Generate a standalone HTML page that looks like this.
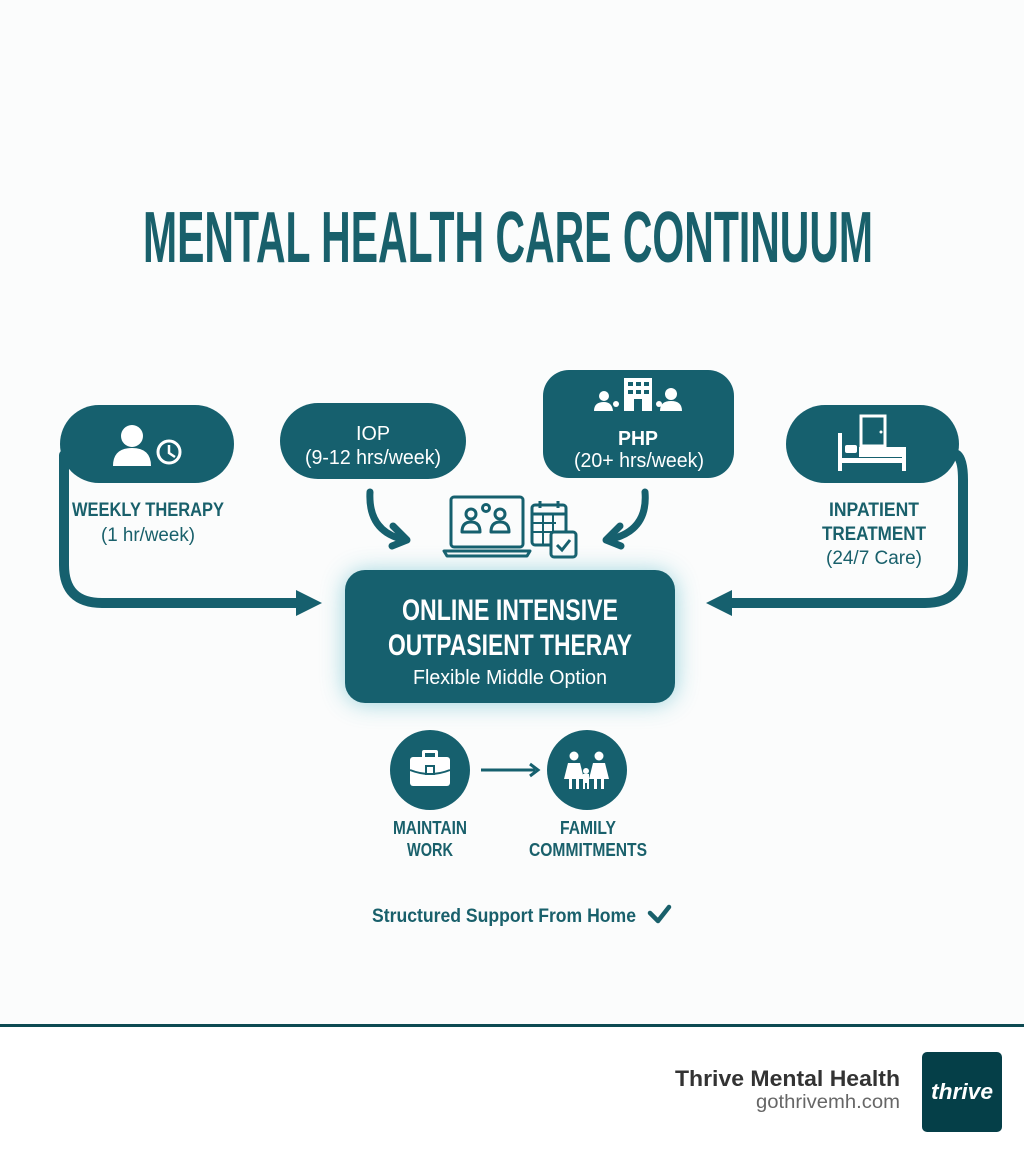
<!DOCTYPE html>
<html><head><meta charset="utf-8"><style>
html,body{margin:0;padding:0;background:#fbfcfc;}
svg{display:block;}
text{font-family:"Liberation Sans",sans-serif;}
</style></head><body>
<svg width="1024" height="1154" viewBox="0 0 1024 1154" xmlns="http://www.w3.org/2000/svg">
<defs>
<filter id="glow" x="-30%" y="-40%" width="160%" height="180%"><feGaussianBlur stdDeviation="12"/></filter>
<filter id="glow2" x="-50%" y="-50%" width="200%" height="200%"><feGaussianBlur stdDeviation="8"/></filter>
</defs>
<rect width="1024" height="1154" fill="#fbfcfc"/>
<!-- Title -->
<text x="508" y="262" text-anchor="middle" font-size="72" font-weight="bold" fill="#19606b" textLength="730" lengthAdjust="spacingAndGlyphs">MENTAL HEALTH CARE CONTINUUM</text>

<g fill="#16606e" stroke="none">
<!-- weekly pill -->
<rect x="60" y="405" width="174" height="78" rx="39"/>
<!-- IOP pill -->
<rect x="280" y="403" width="186" height="76" rx="38"/>
<!-- PHP box -->
<rect x="543" y="370" width="191" height="108" rx="26"/>
<!-- inpatient -->
<rect x="786" y="405" width="173" height="78" rx="39"/>
</g>

<!-- connectors -->
<g fill="none" stroke="#16606e" stroke-width="10" stroke-linecap="round">
<path d="M64 455 L64 565 Q64 603 102 603 L300 603"/>
<path d="M957 455 Q963 460 963 480 L963 565 Q963 603 925 603 L728 603"/>
<path d="M370 492 Q368 528 398 538" stroke-width="7"/>
<path d="M645 492 Q648 528 615 538" stroke-width="7"/>
</g>
<g fill="#16606e">
<polygon points="296,590 322,603 296,616"/>
<polygon points="732,590 706,603 732,616"/>
</g>
<g fill="none" stroke="#16606e" stroke-width="7" stroke-linecap="round" stroke-linejoin="round">
<polyline points="393,526 407,540 392,546"/>
<polyline points="620,526 606,540 621,546"/>
</g>

<!-- weekly icon -->
<g fill="#fff">
<circle cx="132" cy="436" r="11"/>
<path d="M113 466 Q113 448 132 448 Q151 448 151 466 Z"/>
</g>
<circle cx="169" cy="452" r="11" fill="none" stroke="#fff" stroke-width="3"/>
<polyline points="169,445 169,453 175,457" fill="none" stroke="#fff" stroke-width="2.5"/>

<!-- IOP text -->
<text x="373" y="440" text-anchor="middle" font-size="20" fill="#fff" textLength="34" lengthAdjust="spacingAndGlyphs">IOP</text>
<text x="373" y="464" text-anchor="middle" font-size="20" fill="#fff" textLength="136" lengthAdjust="spacingAndGlyphs">(9-12 hrs/week)</text>

<!-- PHP icon -->
<g fill="#fff">
<rect x="624" y="378" width="28" height="33"/>
<circle cx="604" cy="396" r="5"/><path d="M594 411 Q594 402 604 402 Q612 402 613 411Z"/>
<circle cx="671" cy="394" r="6"/><path d="M660 411 Q660 401 671 401 Q682 401 682 411Z"/>
<circle cx="616" cy="404" r="3"/><circle cx="659" cy="404" r="3"/>
</g>
<g fill="#16606e">
<rect x="628" y="382" width="5" height="4"/><rect x="636" y="382" width="5" height="4"/><rect x="644" y="382" width="5" height="4"/>
<rect x="628" y="390" width="5" height="4"/><rect x="636" y="390" width="5" height="4"/><rect x="644" y="390" width="5" height="4"/>
<rect x="634" y="399" width="8" height="12"/>
</g>
<text x="638" y="445" text-anchor="middle" font-size="20" font-weight="bold" fill="#fff" textLength="40" lengthAdjust="spacingAndGlyphs">PHP</text>
<text x="639" y="467" text-anchor="middle" font-size="20" fill="#fff" textLength="130" lengthAdjust="spacingAndGlyphs">(20+ hrs/week)</text>

<!-- inpatient icon -->
<g fill="none" stroke="#fff" stroke-width="3">
<rect x="861" y="416" width="24" height="30"/>
</g>
<circle cx="881" cy="432" r="1.5" fill="#fff"/>
<g fill="#fff">
<rect x="838" y="433" width="4" height="38"/>
<rect x="902" y="447" width="4" height="24"/>
<rect x="838" y="458" width="68" height="5"/>
<rect x="845" y="445" width="12" height="8" rx="2"/>
<rect x="859" y="447" width="43" height="10"/>
</g>

<!-- side labels -->
<text x="148" y="516" text-anchor="middle" font-size="19" font-weight="bold" fill="#19606b" textLength="152" lengthAdjust="spacingAndGlyphs">WEEKLY THERAPY</text>
<text x="148" y="541" text-anchor="middle" font-size="19" fill="#19606b" textLength="94" lengthAdjust="spacingAndGlyphs">(1 hr/week)</text>
<text x="874" y="516" text-anchor="middle" font-size="19" font-weight="bold" fill="#19606b" textLength="90" lengthAdjust="spacingAndGlyphs">INPATIENT</text>
<text x="874" y="540" text-anchor="middle" font-size="19" font-weight="bold" fill="#19606b" textLength="104" lengthAdjust="spacingAndGlyphs">TREATMENT</text>
<text x="874" y="564" text-anchor="middle" font-size="19" fill="#19606b" textLength="96" lengthAdjust="spacingAndGlyphs">(24/7 Care)</text>

<!-- laptop icon -->
<g fill="none" stroke="#16606e" stroke-width="3" stroke-linejoin="round">
<rect x="451" y="497" width="72" height="50" rx="3"/>
<path d="M444 551 L530 551 L527 556 L447 556 Z"/>
<circle cx="471" cy="514" r="5"/><path d="M462 532 Q462 522 471 522 Q480 522 480 532Z"/>
<circle cx="500" cy="514" r="5"/><path d="M491 532 Q491 522 500 522 Q509 522 509 532Z"/>
<circle cx="486" cy="508" r="3.5"/>
<rect x="532" y="505" width="34" height="40" rx="3"/>
<line x1="532" y1="514" x2="566" y2="514"/>
<line x1="540" y1="501" x2="540" y2="508"/><line x1="558" y1="501" x2="558" y2="508"/>
<line x1="532" y1="523" x2="556" y2="523" stroke-width="2"/><line x1="532" y1="532" x2="552" y2="532" stroke-width="2"/>
<line x1="543" y1="514" x2="543" y2="545" stroke-width="2"/><line x1="553" y1="514" x2="553" y2="535" stroke-width="2"/>
</g>
<rect x="551" y="532" width="25" height="25" rx="3" fill="#fbfcfc" stroke="#16606e" stroke-width="3"/>
<polyline points="557,545 562,550 570,540" fill="none" stroke="#16606e" stroke-width="3"/>

<!-- center box -->
<rect x="345" y="572" width="330" height="131" rx="20" fill="#4fb4c4" opacity="0.6" filter="url(#glow)"/>
<rect x="345" y="570" width="330" height="133" rx="20" fill="#16606e"/>
<text x="510" y="620" text-anchor="middle" font-size="30" font-weight="bold" fill="#fff" textLength="216" lengthAdjust="spacingAndGlyphs">ONLINE INTENSIVE</text>
<text x="510" y="655" text-anchor="middle" font-size="30" font-weight="bold" fill="#fff" textLength="244" lengthAdjust="spacingAndGlyphs">OUTPASIENT THERAY</text>
<text x="510" y="684" text-anchor="middle" font-size="20" fill="#fff" textLength="194" lengthAdjust="spacingAndGlyphs">Flexible Middle Option</text>

<!-- circles -->
<circle cx="430" cy="770" r="40" fill="#16606e"/>
<circle cx="587" cy="770" r="40" fill="#16606e"/>
<g fill="#fff">
<rect x="410" y="757" width="40" height="29" rx="3"/>
<path d="M422 757 L422 752 Q422 750 424 750 L436 750 Q438 750 438 752 L438 757 L435 757 L435 753 L425 753 L425 757Z"/>
</g>
<path d="M410 770 Q430 778 450 770" fill="none" stroke="#16606e" stroke-width="2"/>
<rect x="426" y="766" width="8" height="8" fill="#fff" stroke="#16606e" stroke-width="2"/>
<g fill="#fff">
<circle cx="574" cy="756" r="4.5"/><path d="M568 763 L580 763 L584 779 L564 779Z"/><rect x="569" y="779" width="3" height="10"/><rect x="576" y="779" width="3" height="10"/>
<circle cx="599" cy="756" r="4.5"/><path d="M593 763 L605 763 L609 779 L589 779Z"/><rect x="594" y="779" width="3" height="10"/><rect x="601" y="779" width="3" height="10"/>
<circle cx="586" cy="771" r="3"/><rect x="583" y="774" width="6" height="9"/><rect x="583" y="783" width="2" height="6"/><rect x="587" y="783" width="2" height="6"/>
</g>
<line x1="481" y1="770" x2="535" y2="770" stroke="#16606e" stroke-width="3"/>
<polyline points="530,764 538,770 530,776" fill="none" stroke="#16606e" stroke-width="3"/>

<text x="430" y="834" text-anchor="middle" font-size="18" font-weight="bold" fill="#19606b" textLength="74" lengthAdjust="spacingAndGlyphs">MAINTAIN</text>
<text x="430" y="856" text-anchor="middle" font-size="18" font-weight="bold" fill="#19606b" textLength="46" lengthAdjust="spacingAndGlyphs">WORK</text>
<text x="588" y="834" text-anchor="middle" font-size="18" font-weight="bold" fill="#19606b" textLength="56" lengthAdjust="spacingAndGlyphs">FAMILY</text>
<text x="588" y="856" text-anchor="middle" font-size="18" font-weight="bold" fill="#19606b" textLength="118" lengthAdjust="spacingAndGlyphs">COMMITMENTS</text>

<text x="372" y="922" font-size="19" font-weight="bold" fill="#19606b" textLength="264" lengthAdjust="spacingAndGlyphs">Structured Support From Home</text>
<polyline points="650,913 658,921 669,907" fill="none" stroke="#19606b" stroke-width="4.5" stroke-linecap="round" stroke-linejoin="round"/>

<!-- footer -->
<rect x="0" y="1024" width="1024" height="3" fill="#0d4a52"/>
<rect x="0" y="1027" width="1024" height="127" fill="#ffffff"/>
<text x="900" y="1086" text-anchor="end" font-size="22" font-weight="bold" fill="#333" textLength="225" lengthAdjust="spacingAndGlyphs">Thrive Mental Health</text>
<text x="900" y="1108" text-anchor="end" font-size="19" fill="#666" textLength="144" lengthAdjust="spacingAndGlyphs">gothrivemh.com</text>
<rect x="922" y="1052" width="80" height="80" rx="5" fill="#053f48"/>
<text x="962" y="1099" text-anchor="middle" font-size="22" font-weight="bold" font-style="italic" fill="#fff" textLength="62" lengthAdjust="spacingAndGlyphs">thrive</text>
</svg>
</body></html>
